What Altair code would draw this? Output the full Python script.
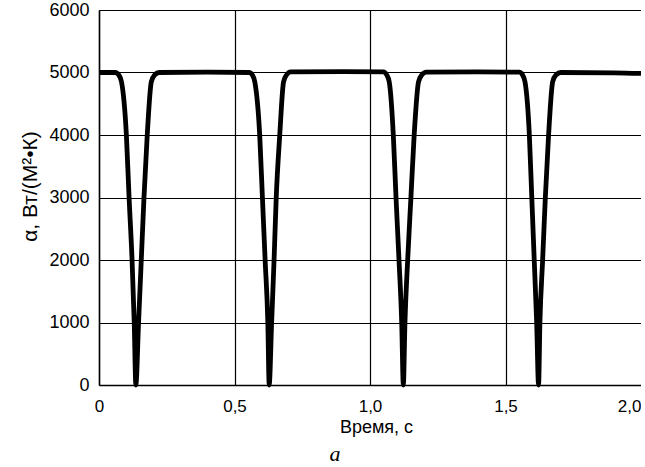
import altair as alt
import pandas as pd

# Heat-transfer coefficient over time: flat plateau with four periodic dips.
t_start = [0.000, 0.030]
a_start = [5000, 5000]

t_dip1 = [0.060, 0.073, 0.083, 0.101, 0.111, 0.122, 0.130, 0.136,
          0.146, 0.156, 0.166, 0.178, 0.193, 0.205, 0.222]
a_dip1 = [5000, 4960, 4850, 4000, 3000, 2000, 1000, 0,
          1000, 2000, 3000, 4000, 4850, 4960, 5000]

t_mid1 = [0.400]
a_mid1 = [5005]

t_dip2 = [0.554, 0.566, 0.575, 0.593, 0.603, 0.613, 0.623, 0.628,
          0.637, 0.646, 0.654, 0.667, 0.681, 0.692, 0.707]
a_dip2 = [5000, 4960, 4850, 4000, 3000, 2000, 1000, 0,
          1000, 2000, 3000, 4000, 4850, 4960, 5010]

t_mid2 = [0.900]
a_mid2 = [5015]

t_dip3 = [1.050, 1.062, 1.071, 1.086, 1.096, 1.107, 1.117, 1.123,
          1.129, 1.139, 1.151, 1.163, 1.179, 1.191, 1.208]
a_dip3 = [5010, 4960, 4850, 4000, 3000, 2000, 1000, 0,
          1000, 2000, 3000, 4000, 4850, 4960, 5005]

t_mid3 = [1.400]
a_mid3 = [5010]

t_dip4 = [1.551, 1.563, 1.572, 1.588, 1.597, 1.606, 1.615, 1.622,
          1.627, 1.637, 1.647, 1.659, 1.674, 1.686, 1.704]
a_dip4 = [5005, 4960, 4850, 4000, 3000, 2000, 1000, 0,
          1000, 2000, 3000, 4000, 4850, 4960, 5000]

t_end = [1.900, 2.000]
a_end = [4995, 4985]

x_ticks = [0, 0.5, 1.0, 1.5, 2.0]
y_ticks = [0, 1000, 2000, 3000, 4000, 5000, 6000]

times = t_start + t_dip1 + t_mid1 + t_dip2 + t_mid2 + t_dip3 + t_mid3 + t_dip4 + t_end
alphas = a_start + a_dip1 + a_mid1 + a_dip2 + a_mid2 + a_dip3 + a_mid3 + a_dip4 + a_end
df = pd.DataFrame({"t": times, "alpha": alphas, "order": range(len(times))})

FONT = "Liberation Sans"

chart = (
    alt.Chart(df)
    .mark_line(color="black", strokeWidth=4.8, interpolate="monotone",
               strokeJoin="round", strokeCap="butt")
    .encode(
        x=alt.X(
            "t:Q",
            scale=alt.Scale(domain=[0, 2], nice=False, zero=False),
            axis=alt.Axis(
                values=x_ticks,
                labelExpr="datum.value == 0 ? '0' : replace(format(datum.value, '.1f'), '.', ',')",
                labelFlush=False,
                labelOverlap=False,
                labelAlign={"condition": {"test": "datum.value >= 2", "value": "right"}, "value": "center"},
                title="Время, с",
                titleX=277,
                titleY=33,
                labelPadding=13,
                gridOpacity={"condition": {"test": "datum.value >= 2", "value": 0}, "value": 1},
            ),
        ),
        y=alt.Y(
            "alpha:Q",
            scale=alt.Scale(domain=[0, 6000], nice=False),
            axis=alt.Axis(
                values=y_ticks,
                format="d",
                title="α, Вт/(М²•К)",
                titleX=-59,
                titleY=176,
                titleFontSize=21,
                labelPadding=10,
                labelFontSize=18,
            ),
        ),
        order="order:Q",
    )
    .properties(
        width=542,
        height=375,
        padding={"left": 99, "top": 10, "right": 0, "bottom": 82},
        autosize=alt.AutoSizeParams(type="none"),
        title=alt.TitleParams(
            "a", orient="bottom", anchor="middle", dx=-35, offset=8,
            font="Liberation Serif", fontStyle="italic", fontWeight="normal",
            fontSize=22, color="black",
        ),
    )
    .configure_view(stroke=None)
    .configure_axis(
        ticks=False,
        domainColor="black",
        domainWidth=1.5,
        grid=True,
        gridColor="#000000",
        gridWidth=1.2,
        labelFont=FONT,
        labelFontSize=17,
        labelColor="black",
        titleFont=FONT,
        titleFontSize=18,
        titleFontWeight="normal",
        titleColor="black",
    )
)

chart.save("out.html", embed_options={"renderer": "svg", "actions": False})
